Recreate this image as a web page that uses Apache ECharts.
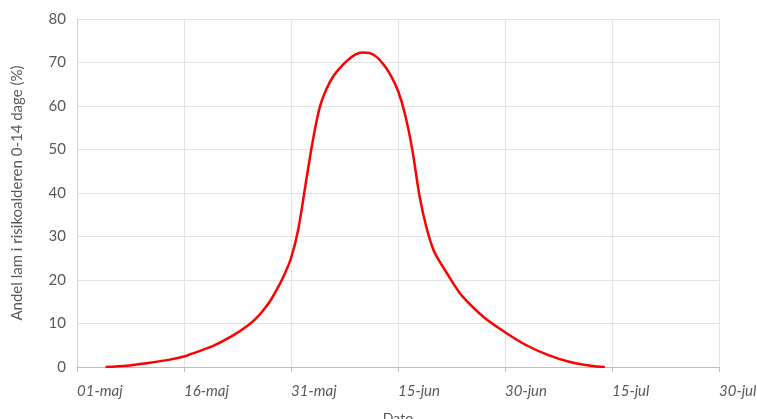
<!DOCTYPE html>
<html>
<head>
<meta charset="utf-8">
<script src="https://cdn.jsdelivr.net/npm/echarts@6/dist/echarts.min.js"></script>
<style>html,body{margin:0;padding:0;background:#fff;}#c{width:757px;height:419px;}</style>
</head>
<body>
<div id="c"></div>
<script>
// day index: 0 = 01-maj
const tickLabels = ['01-maj','16-maj','31-maj','15-jun','30-jun','15-jul','30-jul'];
const days   = [4, 7, 10, 13, 15, 16, 19, 22, 24, 25, 26, 27, 28, 29, 30, 31, 32, 33, 34, 35, 36, 37, 38, 39, 40, 41, 42, 43, 44, 45, 46, 47, 48, 49, 50, 51, 52, 53, 54, 57, 60, 63, 66, 69, 72, 74];
const values = [0, 0.3, 0.9, 1.7, 2.4, 3, 4.8, 7.4, 9.6, 11, 12.8, 15, 17.8, 21, 25, 31.5, 41.5, 51.5, 59.5, 64, 67, 69, 70.6, 71.8, 72.3, 72.2, 71.3, 69.5, 67, 63.5, 58, 50, 39.5, 32, 26.8, 23.8, 21.2, 18.6, 16.3, 11.5, 8, 5, 2.8, 1.2, 0.3, 0];
const yAxisName = 'Andel lam i risikoalderen 0-14 dage (%)';
const xAxisName = 'Dato';

const chart = echarts.init(document.getElementById('c'));
const font = 'Lato, "Open Sans", sans-serif';
chart.setOption({
  animation: false,
  backgroundColor: '#fff',
  grid: { left: 77, right: 38, top: 19, bottom: 52, containLabel: false, outerBoundsMode: 'none' },
  xAxis: {
    type: 'value', min: 0, max: 90, interval: 15,
    name: xAxisName, nameLocation: 'middle', nameGap: 44,
    nameTextStyle: { color: '#595959', fontSize: 14, fontFamily: font },
    axisLine: { show: true, lineStyle: { color: '#bfbfbf' } },
    axisTick: { show: true, length: 5, lineStyle: { color: '#bfbfbf' } },
    axisLabel: {
      color: '#595959', fontSize: 15, fontFamily: font, fontStyle: 'italic',
      align: 'left', margin: 17,
      formatter: v => tickLabels[Math.round(v / 15)] || ''
    },
    splitLine: { show: true, lineStyle: { color: '#e3e3e3' } }
  },
  yAxis: {
    type: 'value', min: 0, max: 80, interval: 10,
    name: yAxisName, nameLocation: 'middle', nameGap: 52,
    nameTextStyle: { color: '#595959', fontSize: 15, fontFamily: font },
    axisLine: { show: true, lineStyle: { color: '#d0d0d0' } },
    axisTick: { show: false },
    axisLabel: { color: '#595959', fontSize: 15, fontFamily: font, margin: 11 },
    splitLine: { show: true, lineStyle: { color: '#e3e3e3' } }
  },
  series: [{
    type: 'line',
    data: days.map((d, i) => [d, values[i]]),
    smooth: 0.3,
    showSymbol: false,
    lineStyle: { color: '#ff0000', width: 2.5 },
    itemStyle: { color: '#ff0000' }
  }]
});
</script>
</body>
</html>
